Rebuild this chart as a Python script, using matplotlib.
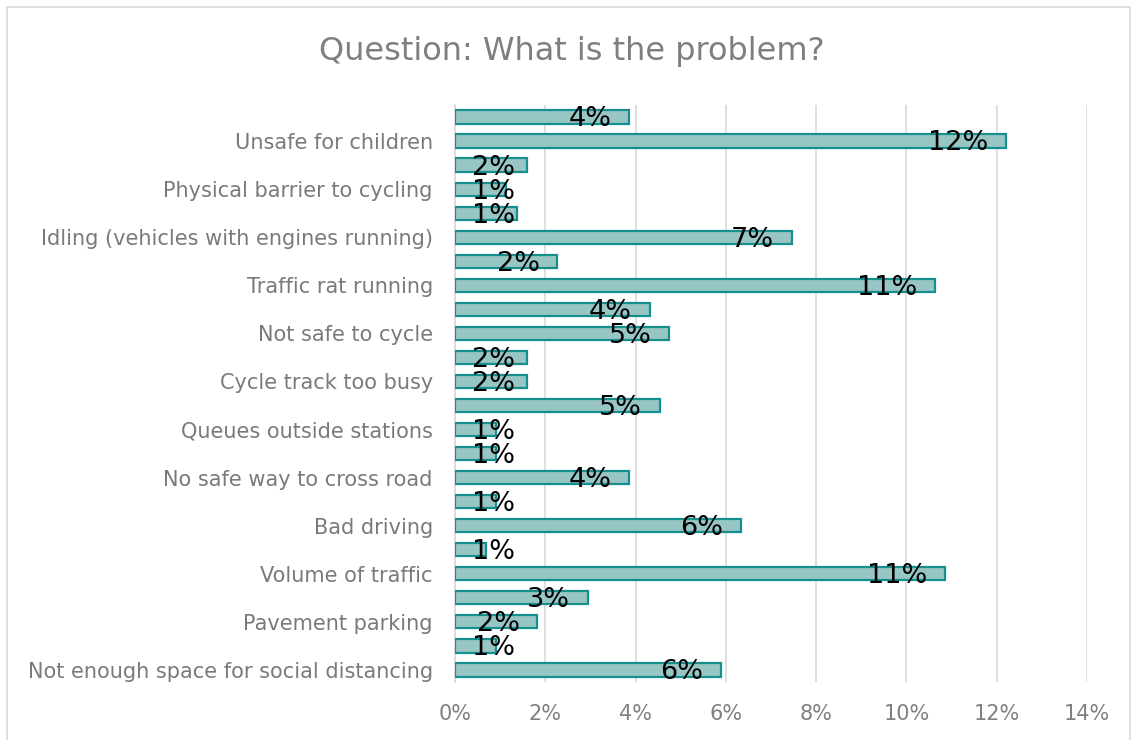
import numpy as np
import matplotlib.pyplot as plt
from matplotlib.patches import Rectangle

# 24 bars, only every second one carries a category name
names = ['', 'Unsafe for children',
         '', 'Physical barrier to cycling',
         '', 'Idling (vehicles with engines running)',
         '', 'Traffic rat running',
         '', 'Not safe to cycle',
         '', 'Cycle track too busy',
         '', 'Queues outside stations',
         '', 'No safe way to cross road',
         '', 'Bad driving',
         '', 'Volume of traffic',
         '', 'Pavement parking',
         '', 'Not enough space for social distancing']
vals = [3.86, 12.21, 1.59, 1.14, 1.37, 7.46, 2.27, 10.64,
        4.31, 4.75, 1.59, 1.59, 4.53, 0.91, 0.91, 3.86,
        0.91, 6.34, 0.69, 10.86, 2.94, 1.82, 0.91, 5.89]
xticks = [0, 2, 4, 6, 8, 10, 12, 14]

plt.rcParams['font.family'] = ['DejaVu Sans']

fig = plt.figure(figsize=(11.37, 7.40), dpi=100)
ax = fig.add_axes([0.4002, 0.0784, 0.5558, 0.7797])

y = np.arange(len(vals))
ax.barh(y, vals, height=0.55, color='#98c6c4', edgecolor='#15908e', linewidth=1.6, zorder=3)

ax.set_ylim(len(vals) - 0.5, -0.5)
ax.set_xlim(0, 14)
ax.set_xticks(xticks)
ax.set_xticklabels([f'{t}%' for t in xticks], fontsize=15, color='#808080')
ax.set_yticks(y[1::2])
ax.set_yticklabels(names[1::2], fontsize=15, color='#7a7a7a')
ax.tick_params(axis='both', length=0)
ax.tick_params(axis='y', pad=16)
ax.tick_params(axis='x', pad=16)

for s in ['top', 'right', 'bottom']:
    ax.spines[s].set_visible(False)
ax.spines['left'].set_color('#d9d9d9')
ax.spines['left'].set_linewidth(1.2)
ax.xaxis.grid(True, color='#d9d9d9', linewidth=1.2, zorder=0)
ax.set_axisbelow(True)

# value labels at the inside end of each bar
fig.canvas.draw()
r = fig.canvas.get_renderer()
px = ax.transData.transform((1, 0))[0] - ax.transData.transform((0, 0))[0]
for i, v in enumerate(vals):
    t = ax.text(v - 0.39, i + 0.1, f'{round(v)}%', ha='right', va='center',
                fontsize=19.5, color='black', zorder=5)
    w = t.get_window_extent(r).width / px
    if v - 0.39 - w < 0.38:
        t.set_x(0.38)
        t.set_ha('left')

fig.text(0.503, 0.93, 'Question: What is the problem?', ha='center', va='center',
         fontsize=23, color='#7f7f7f')

fig.patches.append(Rectangle((7 / 1137, -0.01), 1123 / 1137, 1.01 - 7 / 740,
                             transform=fig.transFigure, fill=False,
                             edgecolor='#d9d9d9', linewidth=1.2))

fig.savefig('out.png', dpi=100)
